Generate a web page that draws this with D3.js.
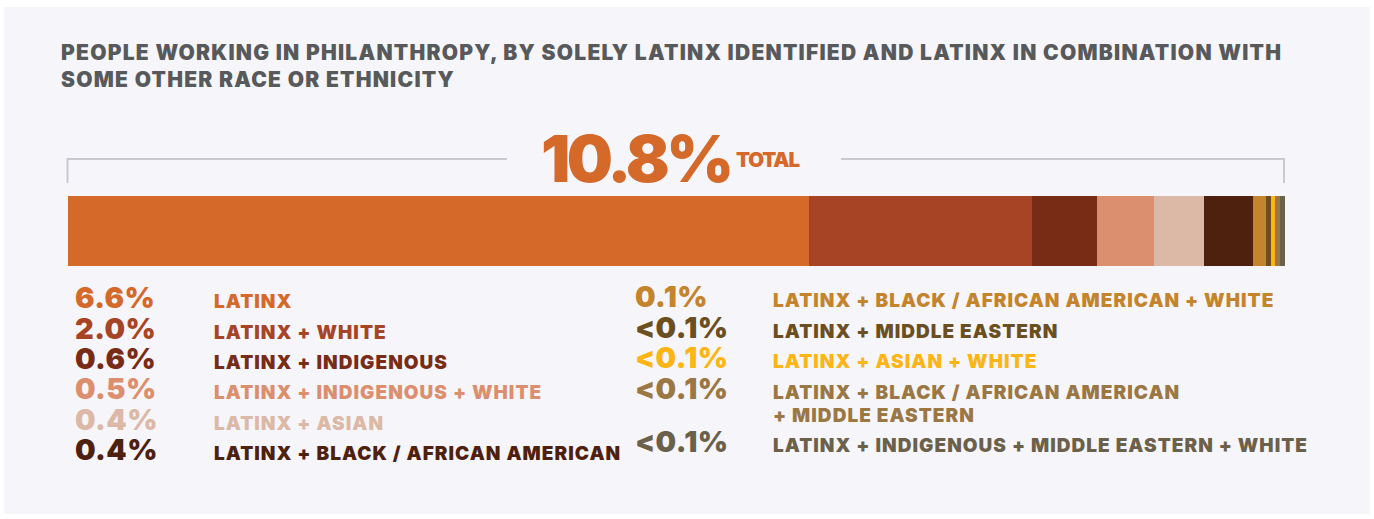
<!DOCTYPE html>
<html>
<head>
<meta charset="utf-8">
<script src="https://cdn.jsdelivr.net/npm/d3@7"></script>
<style>
  html, body { margin: 0; padding: 0; background: #ffffff; }
  svg { display: block; }
  text { font-family: Inter, Lato, "Open Sans", sans-serif; }
</style>
</head>
<body>
<svg id="chart" width="1374" height="519"></svg>
<script>
// ---- data ----
const titleLines = [
  "PEOPLE WORKING IN PHILANTHROPY, BY SOLELY LATINX IDENTIFIED AND LATINX IN COMBINATION WITH",
  "SOME OTHER RACE OR ETHNICITY"
];
const totalLabel = "10.8%";
const totalWord = "TOTAL";
const categories = [
  "LATINX",
  "LATINX + WHITE",
  "LATINX + INDIGENOUS",
  "LATINX + INDIGENOUS + WHITE",
  "LATINX + ASIAN",
  "LATINX + BLACK / AFRICAN AMERICAN",
  "LATINX + BLACK / AFRICAN AMERICAN + WHITE",
  "LATINX + MIDDLE EASTERN",
  "LATINX + ASIAN + WHITE",
  "LATINX + BLACK / AFRICAN AMERICAN|+ MIDDLE EASTERN",
  "LATINX + INDIGENOUS + MIDDLE EASTERN + WHITE"
];
const valueLabels = ["6.6%", "2.0%", "0.6%", "0.5%", "0.4%", "0.4%", "0.1%", "<0.1%", "<0.1%", "<0.1%", "<0.1%"];
// bar widths (percent of people)
const values = [6.59, 1.98, 0.58, 0.51, 0.44, 0.44, 0.11, 0.045, 0.035, 0.045, 0.045];
const colors = ["#D4692A", "#A84426", "#782C16", "#DC8F6E", "#DCB8A6", "#4E200E",
                "#C4842C", "#6B4F20", "#FDB515", "#9B7744", "#6B614B"];

// ---- layout ----
const svg = d3.select("#chart");
svg.append("rect").attr("x", 4).attr("y", 7).attr("width", 1366).attr("height", 507).attr("fill", "#F5F5FA");

function spacingFor(sel, target) {
  const node = sel.node();
  const w = node.getComputedTextLength();
  const n = node.textContent.length;
  return n > 1 ? (target - w) / (n - 1) : 0;
}

// title
const titleSel = titleLines.map((t, i) => svg.append("text")
    .attr("x", 61).attr("y", 60 + i * 27)
    .attr("fill", "#58595B")
    .attr("font-size", 21).attr("font-weight", 900)
    .text(t));
const tls = spacingFor(titleSel[0], 1220);
titleSel.forEach(s => s.attr("letter-spacing", tls));

// scale
const total = d3.sum(values);
const x = d3.scaleLinear().domain([0, total]).range([67.5, 1285]);
const stacks = d3.cumsum(values);
const starts = stacks.map((s, i) => s - values[i]);

// bracket
const bracketY = 159;
const br = svg.append("g").attr("stroke", "#C9C9CF").attr("stroke-width", 2).attr("fill", "none");
br.append("path").attr("d", `M${x(0)},183 V${bracketY} H507`);
br.append("path").attr("d", `M841,${bracketY} H${x(total) - 1} V183`);

// total label
const big = svg.append("text")
  .attr("x", 541).attr("y", 182)
  .attr("fill", "#D4692A").attr("font-size", 65).attr("font-weight", 900)
  .text(totalLabel);
big.attr("letter-spacing", spacingFor(big, 193));
const tw = svg.append("text")
  .attr("x", 736).attr("y", 167)
  .attr("fill", "#D4692A").attr("font-size", 20.5).attr("font-weight", 900)
  .text(totalWord);
tw.attr("letter-spacing", spacingFor(tw, 64));

// bar
svg.append("g").selectAll("rect").data(values).join("rect")
  .attr("x", (d, i) => x(starts[i]))
  .attr("y", 196)
  .attr("width", (d, i) => x(stacks[i]) - x(starts[i]))
  .attr("height", 70)
  .attr("fill", (d, i) => colors[i])
  .attr("shape-rendering", "crispEdges");

// legend
const leftBase = [308, 339, 369, 399, 430, 460];
const rightBase = [307, 338, 368, 399, 452];
const leg = svg.append("g");
const valSel = [], labSel = [];
categories.forEach((c, i) => {
  const left = i < 6;
  const by = left ? leftBase[i] : rightBase[i - 6];
  const vx = left ? 75 : 635;
  const lx = left ? 214 : 773;
  valSel.push(leg.append("text")
    .attr("x", vx).attr("y", by)
    .attr("fill", colors[i]).attr("font-size", 29).attr("font-weight", 900)
    .text(valueLabels[i]));
  c.split("|").forEach((ln, j) => {
    labSel.push(leg.append("text")
      .attr("x", lx).attr("y", by + j * 23)
      .attr("fill", colors[i]).attr("font-size", 19).attr("font-weight", 900)
      .text(ln));
  });
});
const vls = spacingFor(valSel[10], 93);
valSel.forEach(s => s.attr("letter-spacing", vls));
const lls = spacingFor(labSel[labSel.length - 1], 534);
labSel.forEach(s => s.attr("letter-spacing", lls));
</script>
</body>
</html>
